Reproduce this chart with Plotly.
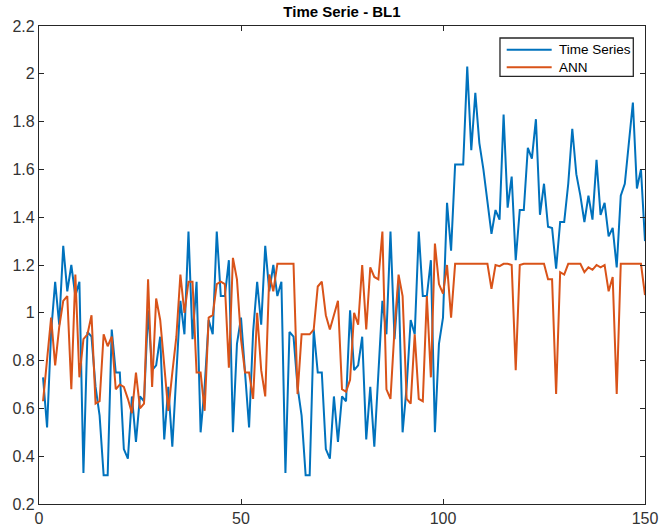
import plotly.graph_objects as go

x_vals = list(range(1, 151))

time_series = [
    0.73, 0.52, 0.92, 1.13, 0.95, 1.28, 1.09, 1.20, 1.07, 1.13,
    0.33, 0.92, 0.90, 0.69, 0.57, 0.32, 0.32, 0.93, 0.75, 0.75,
    0.43, 0.39, 0.65, 0.46, 0.65, 0.63, 1.01, 0.76, 0.78, 0.90,
    0.47, 0.69, 0.44, 0.76, 1.05, 0.91, 1.34, 0.89, 1.13, 0.50,
    0.69, 0.97, 0.91, 1.34, 1.07, 1.07, 1.22, 0.50, 0.87, 0.98,
    0.73, 0.52, 0.92, 1.13, 0.95, 1.28, 1.09, 1.20, 1.07, 1.13,
    0.33, 0.92, 0.90, 0.69, 0.57, 0.32, 0.32, 0.93, 0.75, 0.75,
    0.43, 0.39, 0.65, 0.46, 0.65, 0.63, 1.01, 0.76, 0.78, 0.90,
    0.47, 0.69, 0.44, 0.76, 1.05, 0.91, 1.34, 0.89, 1.13, 0.50,
    0.69, 0.97, 0.91, 1.34, 1.07, 1.07, 1.22, 0.50, 0.87, 0.98,
    1.46, 1.26, 1.62, 1.62, 1.62, 2.03, 1.68, 1.92, 1.71, 1.60,
    1.46, 1.33, 1.43, 1.39, 1.83, 1.44, 1.57, 1.22, 1.43, 1.43,
    1.69, 1.645, 1.81, 1.41, 1.54, 1.36, 1.355, 1.185, 1.38, 1.38,
    1.54, 1.77, 1.58, 1.49, 1.38, 1.49, 1.39, 1.64, 1.41, 1.46,
    1.32, 1.355, 1.19, 1.49, 1.54, 1.70, 1.88, 1.52, 1.60, 1.30,
]

ann = [
    0.63, 0.80, 0.98, 0.78, 0.94, 1.05, 1.07, 0.68, 1.16, 0.73,
    0.89, 0.91, 0.99, 0.62, 0.63, 0.91, 0.86, 0.90, 0.68, 0.70,
    0.69, 0.64, 0.58, 0.75, 0.60, 0.62, 1.14, 0.69, 1.06, 0.97,
    0.79, 0.59, 0.75, 0.90, 1.16, 1.00, 1.13, 1.13, 0.75, 0.75,
    0.59, 0.98, 0.99, 1.12, 1.13, 1.12, 0.77, 1.23, 1.14, 0.89,
    0.75, 0.75, 0.64, 1.00, 0.76, 0.65, 1.16, 1.09, 1.205, 1.205,
    1.205, 1.205, 1.205, 0.66, 0.91, 0.91, 0.91, 0.93, 1.11, 1.13,
    0.99, 0.93, 0.99, 1.05, 0.68, 0.67, 0.72, 1.00, 0.95, 1.20,
    0.93, 1.19, 1.15, 1.14, 1.34, 0.68, 0.64, 0.93, 1.16, 1.07,
    0.64, 0.62, 0.91, 0.64, 0.63, 1.07, 0.73, 1.29, 1.12, 1.08,
    1.20, 0.98, 1.205, 1.205, 1.205, 1.205, 1.205, 1.205, 1.205, 1.205,
    1.205, 1.10, 1.20, 1.195, 1.205, 1.205, 1.20, 0.76, 1.20, 1.205,
    1.205, 1.205, 1.205, 1.205, 1.205, 1.14, 1.14, 0.66, 1.17, 1.16,
    1.205, 1.205, 1.205, 1.205, 1.17, 1.19, 1.18, 1.20, 1.19, 1.20,
    1.09, 1.15, 0.66, 1.205, 1.205, 1.205, 1.205, 1.205, 1.205, 1.074,
]

series_names = ["Time Series", "ANN"]
series_colors = ["#0072BD", "#D95319"]

x_ticks = [0, 50, 100, 150]
y_ticks = [0.2, 0.4, 0.6, 0.8, 1.0, 1.2, 1.4, 1.6, 1.8, 2.0, 2.2]
y_tick_labels = ["0.2", "0.4", "0.6", "0.8", "1", "1.2", "1.4", "1.6", "1.8", "2", "2.2"]

FONT = "Liberation Sans, Arial, sans-serif"

fig = go.Figure()
for name, vals, col in zip(series_names, [time_series, ann], series_colors):
    fig.add_trace(go.Scatter(x=x_vals, y=vals, mode="lines", name=name,
                             line=dict(color=col, width=2), showlegend=False))

axis_common = dict(
    showline=True, linecolor="#262626", linewidth=1.3, mirror="allticks",
    ticks="inside", ticklen=5, tickcolor="#262626", tickwidth=1.3,
    showgrid=False, zeroline=False, automargin=False,
    tickfont=dict(family=FONT, size=16, color="#333333"),
)

# Legend box (MATLAB style), drawn in paper coordinates
leg_x0, leg_x1, leg_y0, leg_y1 = 0.7607, 0.9807, 0.8948, 0.9749
line_x0, line_x1, text_x = 0.7718, 0.8460, 0.8543
row_y = [0.9504, 0.9136]

shapes = [dict(type="rect", xref="paper", yref="paper", x0=leg_x0, x1=leg_x1,
               y0=leg_y0, y1=leg_y1, line=dict(color="#262626", width=1.3),
               fillcolor="white", layer="above")]
annotations = []
for name, col, yy in zip(series_names, series_colors, row_y):
    shapes.append(dict(type="line", xref="paper", yref="paper", x0=line_x0, x1=line_x1,
                       y0=yy, y1=yy, line=dict(color=col, width=2), layer="above"))
    annotations.append(dict(text=name, xref="paper", yref="paper", x=text_x, y=yy,
                            xanchor="left", yanchor="middle", showarrow=False,
                            font=dict(family=FONT, size=13.5, color="#000000")))

fig.update_layout(
    width=659, height=530,
    margin=dict(l=39, r=14, t=26, b=26),
    paper_bgcolor="white", plot_bgcolor="white",
    title=dict(text="<b>Time Serie - BL1</b>", x=0.5, xref="paper", xanchor="center",
               y=1 - 12 / 530, yref="container", yanchor="middle",
               font=dict(family=FONT, size=15, color="#000000")),
    xaxis=dict(range=[0, 150], tickvals=x_ticks, **axis_common),
    yaxis=dict(range=[0.2, 2.2], tickvals=y_ticks, ticktext=y_tick_labels, **axis_common),
    shapes=shapes,
    annotations=annotations,
    showlegend=False,
)

fig.write_html("out.html", config={"displayModeBar": False},
               post_script="document.body.style.margin='0px';")
